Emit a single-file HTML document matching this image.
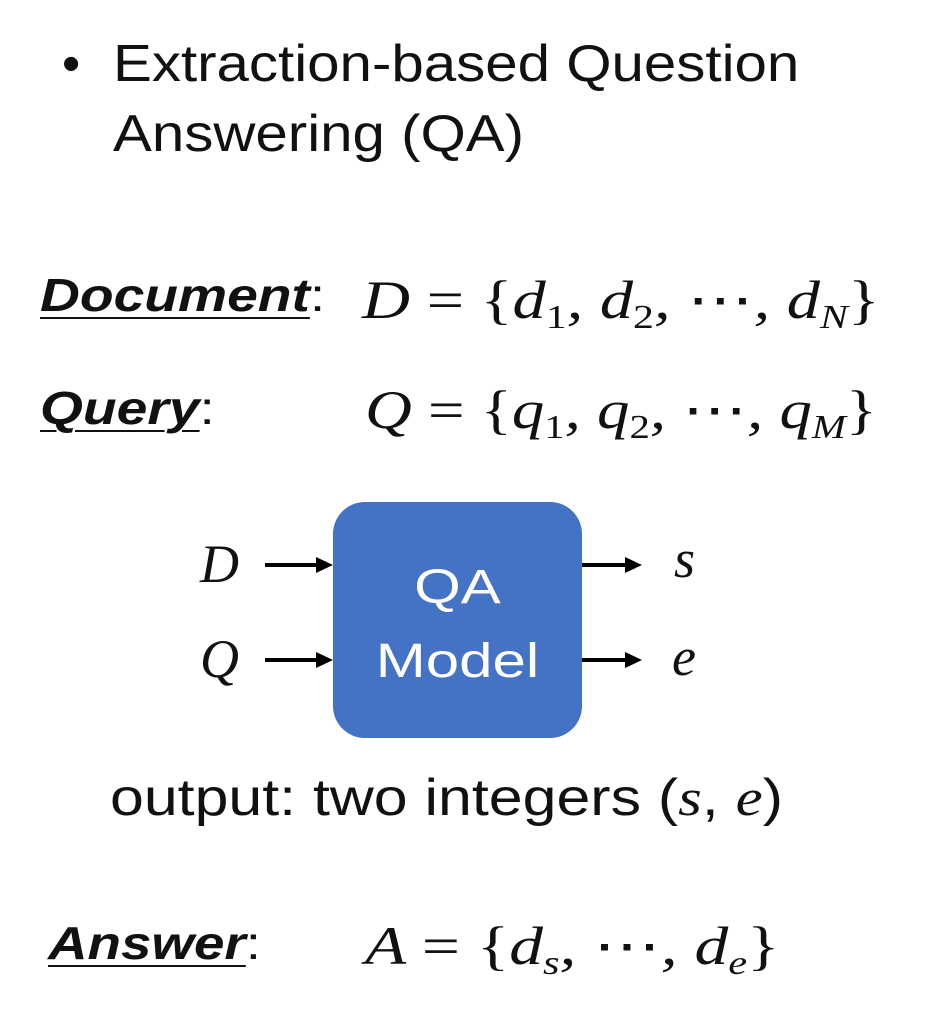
<!DOCTYPE html>
<html><head><meta charset="utf-8"><style>
body{margin:0;width:933px;height:1028px;background:#fff;position:relative;overflow:hidden;font-family:"Liberation Sans",sans-serif;color:#111}
.t{position:absolute;white-space:nowrap;transform-origin:left top}
.s{font-size:52px}
.lab{font-size:46px;font-weight:bold;font-style:italic}
.lab u{text-decoration:underline;text-underline-offset:6px;text-decoration-thickness:2px}
.m{font-family:"Liberation Serif",serif;font-style:italic;font-size:54px}
.m .r{font-style:normal}
sub{font-size:34px;vertical-align:-10px}
.box{position:absolute;left:333px;top:502px;width:249px;height:236px;background:#4472C4;border-radius:32px;color:#fff;font-size:48px;text-align:center}
.box div{transform:scaleX(1.25)}
</style></head><body>
<div class="t s" style="left:62px;top:34px">•</div>
<div class="t s" style="left:113px;top:34px;transform:scaleX(1.12)">Extraction-based Question</div>
<div class="t s" style="left:113px;top:104px;transform:scaleX(1.12)">Answering (QA)</div>

<div class="t lab" style="left:40px;top:268px;transform:scaleX(1.2)"><u>Document</u><span style="font-weight:normal;font-style:normal">:</span></div>
<div class="t m" style="left:362px;top:268px;transform:scaleX(1.23)">D <span class="r">= {</span>d<sub class="r">1</sub>, d<sub class="r">2</sub>, <span class="r">⋯</span>, d<sub>N</sub><span class="r">}</span></div>

<div class="t lab" style="left:40px;top:381px;transform:scaleX(1.2)"><u>Query</u><span style="font-weight:normal;font-style:normal">:</span></div>
<div class="t m" style="left:365px;top:378px;transform:scaleX(1.2)">Q <span class="r">= {</span>q<sub class="r">1</sub>, q<sub class="r">2</sub>, <span class="r">⋯</span>, q<sub>M</sub><span class="r">}</span></div>

<div class="box"><div style="position:absolute;top:58px;width:100%">QA</div><div style="position:absolute;top:132px;width:100%">Model</div></div>

<div class="t m" style="left:200px;top:533px">D</div>
<div class="t m" style="left:200px;top:628px">Q</div>
<div class="t m" style="left:674px;top:528px">s</div>
<div class="t m" style="left:672px;top:626px">e</div>
<svg width="933" height="1028" style="position:absolute;left:0;top:0">
<g stroke="#000" stroke-width="4">
<line x1="265" y1="565" x2="320" y2="565"/><line x1="265" y1="660" x2="320" y2="660"/>
<line x1="582" y1="565" x2="628" y2="565"/><line x1="582" y1="660" x2="628" y2="660"/>
</g>
<g fill="#000">
<polygon points="333,565 316,557 316,573"/><polygon points="333,660 316,652 316,668"/>
<polygon points="642,565 625,557 625,573"/><polygon points="642,660 625,652 625,668"/>
</g></svg>

<div class="t s" style="left:110px;top:768px;transform:scaleX(1.17)">output: two integers (<span class="m" style="font-size:52px">s</span>, <span class="m" style="font-size:52px">e</span>)</div>

<div class="t lab" style="left:48px;top:916px;transform:scaleX(1.19)"><u>Answer</u><span style="font-weight:normal;font-style:normal">:</span></div>
<div class="t m" style="left:365px;top:914px;transform:scaleX(1.25)">A <span class="r">= {</span>d<sub>s</sub>, <span class="r">⋯</span>, d<sub>e</sub><span class="r">}</span></div>
</body></html>
